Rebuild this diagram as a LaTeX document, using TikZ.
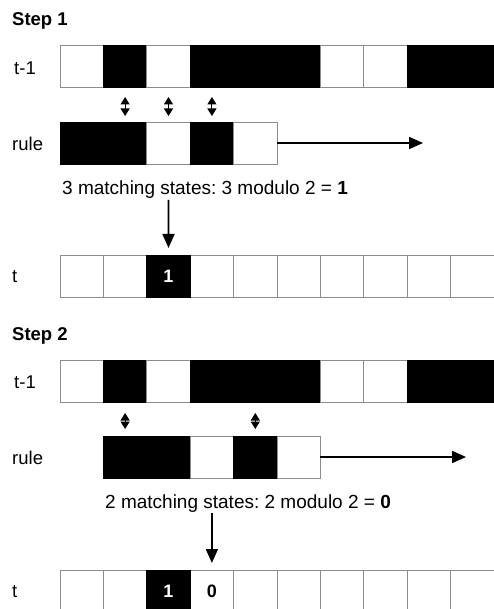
\documentclass[tikz,border=0pt]{standalone}
\usepackage{fontspec}
\setmainfont{Liberation Sans}
\usetikzlibrary{arrows.meta}
\frenchspacing
\tikzset{
  cellbox/.style={draw=black!45, line width=0.8pt, minimum width=43.4pt, minimum height=42pt, inner sep=0pt, outer sep=0pt, anchor=north west},
  whitecell/.style={fill=white},
  blackcell/.style={fill=black, draw=black},
  lbl/.style={font=\fontsize{18.5}{20}\selectfont, anchor=west, inner sep=0pt},
  steplbl/.style={font=\fontsize{18.5}{20}\selectfont\bfseries, anchor=base west, inner sep=0pt},
  sentence/.style={font=\fontsize{19}{21}\selectfont, anchor=base west, inner sep=0pt},
  numtxt/.style={font=\fontsize{18}{20}\selectfont\bfseries},
  mainarrow/.style={line width=1.7pt, -{Triangle[length=14pt,width=12pt]}},
  dblarrow/.style={line width=1.1pt, {Triangle[length=7.5pt,width=9pt]}-{Triangle[length=7.5pt,width=9pt]}},
}
\begin{document}
\begin{tikzpicture}[x=1pt,y=-1pt]
\useasboundingbox (0,0) rectangle (494,609);
\clip (0,0) rectangle (494,609);
\fill[white] (0,0) rectangle (494,609);

% ---------- Step 1 ----------
\node[steplbl] (s1) at (12,26) {Step 1};
\node[lbl] (l1a) at (14,68) {t-1};
\node[lbl] (l1r) at (12,144) {rule};
\node[lbl] (l1t) at (12,277) {t};

\foreach \c [count=\i from 0] in {whitecell,blackcell,whitecell,blackcell,blackcell,blackcell,whitecell,whitecell,blackcell,blackcell}
  \node[cellbox,\c] (a\i) at ({60+43.4*\i},45) {};

\foreach \c [count=\i from 0] in {blackcell,blackcell,whitecell,blackcell,whitecell}
  \node[cellbox,\c] (r\i) at ({60+43.4*\i},122) {};

\foreach \i in {0,...,9}
  \node[cellbox,whitecell] (t\i) at ({60+43.4*\i},255) {};
\node[cellbox,blackcell] (t2) at ({60+43.4*2},255) {};
\node[numtxt,text=white] (n1) at (t2.center) {1};

\foreach \i in {1,2,3}
  \draw[dblarrow, shorten <=10pt, shorten >=6pt] (a\i.south) -- (r\i.north);

\coordinate (e1) at (423,143);
\draw[mainarrow] (r4.east) -- (e1);

\node[sentence] (m1) at (62,195) {3 matching states: 3 modulo 2 = \textbf{1}};
\coordinate (d1) at (168.5,200);
\draw[mainarrow, shorten >=7pt] (d1) -- (t2.north);

% ---------- Step 2 ----------
\node[steplbl] (s2) at (12,340) {Step 2};
\node[lbl] (l2a) at (14,382) {t-1};
\node[lbl] (l2r) at (12,458) {rule};
\node[lbl] (l2t) at (12,592) {t};

\foreach \c [count=\i from 0] in {whitecell,blackcell,whitecell,blackcell,blackcell,blackcell,whitecell,whitecell,blackcell,blackcell}
  \node[cellbox,\c] (b\i) at ({60+43.4*\i},360) {};

\foreach \c [count=\i from 1] in {blackcell,blackcell,whitecell,blackcell,whitecell}
  \node[cellbox,\c] (q\i) at ({60+43.4*\i},436) {};

\foreach \i in {0,...,9}
  \node[cellbox,whitecell] (u\i) at ({60+43.4*\i},570) {};
\node[cellbox,blackcell] (u2) at ({60+43.4*2},570) {};
\node[numtxt,text=white] (n2) at (u2.center) {1};
\node[numtxt] (n3) at (u3.center) {0};

\foreach \i in {1,4}
  \draw[dblarrow, shorten <=11pt, shorten >=7pt] (b\i.south) -- (q\i.north);

\coordinate (e2) at (466,457);
\draw[mainarrow] (q5.east) -- (e2);

\node[sentence] (m2) at (105,508) {2 matching states: 2 modulo 2 = \textbf{0}};
\coordinate (d2) at (211.9,513);
\draw[mainarrow, shorten >=7pt] (d2) -- (u3.north);
\end{tikzpicture}
\end{document}
